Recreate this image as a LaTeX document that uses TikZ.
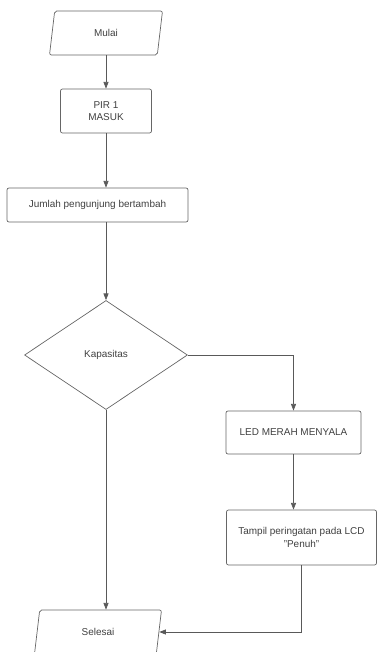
\documentclass[tikz,border=0pt]{standalone}
\usepackage{fontspec}
\setmainfont{Liberation Sans}
\usepackage{xcolor}
\usepackage{tikz}
\usetikzlibrary{arrows.meta,positioning,calc,shapes.geometric}

\begin{document}
\begin{tikzpicture}[>={Triangle[length=2mm,width=1.5mm]},x=0.3mm,y=-0.3mm,
  every node/.style={font=\fontsize{8.5}{10.5}\selectfont,text=black!75,draw=black!60,line width=0.6pt},
  proses/.style={rectangle,rounded corners=0.6mm,align=center},
  io/.style={trapezium,trapezium left angle=71,trapezium right angle=109,trapezium stretches body,rounded corners=0.6mm},
  alur/.style={draw=black!65,line width=0.6pt}]
\clip (0,0) rectangle (377,652);
\useasboundingbox (0,0) rectangle (377,652);
\node[io,minimum width=33.9mm,minimum height=13.2mm] (mulai) at (106,33) {Mulai};
\node[proses,minimum width=27.3mm,minimum height=13.2mm] (pir) at (106,111) {PIR 1\\MASUK};
\node[proses,minimum width=54.3mm,minimum height=10.2mm] (jumlah) at (97.5,205) {Jumlah pengunjung bertambah};
\node[diamond,minimum width=48.9mm,minimum height=32.7mm,inner sep=0pt] (kap) at (106,355) {Kapasitas};
\node[proses,minimum width=40.5mm,minimum height=12.9mm] (led) at (293.5,432.5) {LED MERAH MENYALA};
\node[proses,minimum width=45mm,minimum height=16.5mm] (lcd) at (301.5,537.5) {Tampil peringatan pada LCD\\"Penuh"};
\node[io,minimum width=38.1mm,minimum height=13.2mm] (selesai) at (98,632) {Selesai};
\draw[alur,->] (mulai.south -| pir.north)--(pir.north);
\draw[alur,->] (pir.south)--(pir.south |- jumlah.north);
\draw[alur,->] (jumlah.south -| kap.north)--(kap.north);
\draw[alur,->] (kap.east) -| (led.north);
\draw[alur,->] (led.south)--(led.south |- lcd.north);
\draw[alur,->] (lcd.south) |- (selesai.east);
\draw[alur,->] (kap.south)--(kap.south |- selesai.north);
\end{tikzpicture}
\end{document}
